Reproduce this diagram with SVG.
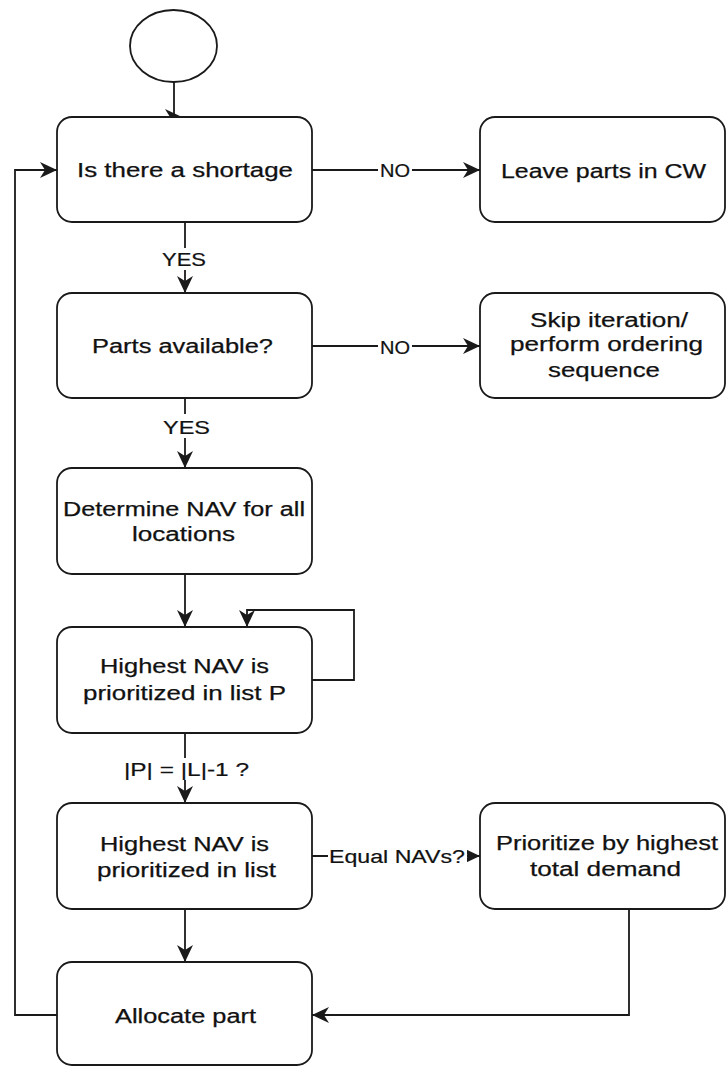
<svg xmlns="http://www.w3.org/2000/svg" width="726" height="1066" viewBox="0 0 726 1066">
  <style>
    .box { fill: #ffffff; stroke: #1a1a1a; stroke-width: 1.8; }
    .edge { fill: none; stroke: #1a1a1a; stroke-width: 1.8; }
    .t { font-family: "Liberation Sans", Arial, sans-serif; font-size: 20px; fill: #111111; stroke: #111111; stroke-width: 0.25; }
    .lbl { font-family: "Liberation Sans", Arial, sans-serif; font-size: 18px; fill: #111111; stroke: #111111; stroke-width: 0.2; }
    .lblbg { fill: #ffffff; }
  </style>
  <defs>
    <marker id="arrow" markerUnits="userSpaceOnUse" markerWidth="20" markerHeight="20" viewBox="-18 -10 20 20" refX="0" refY="0" orient="auto">
      <path d="M0,0 L-17,-8 L-12,0 L-17,8 Z" fill="#1a1a1a"/>
    </marker>
  </defs>
  <rect width="726" height="1066" fill="#ffffff"/>

  <!-- connectors -->
  <g id="connectors">
    <path class="edge" d="M174,82 V117 H182" marker-end="url(#arrow)"/>
    <path class="edge" d="M312,170 H480" marker-end="url(#arrow)"/>
    <path class="edge" d="M185,222 V293" marker-end="url(#arrow)"/>
    <path class="edge" d="M312,346 H480" marker-end="url(#arrow)"/>
    <path class="edge" d="M185,398 V468" marker-end="url(#arrow)"/>
    <path class="edge" d="M185,574 V627" marker-end="url(#arrow)"/>
    <path class="edge" d="M312,680 H354 V610 H247 V627" marker-end="url(#arrow)"/>
    <path class="edge" d="M185,733 V803" marker-end="url(#arrow)"/>
    <path class="edge" d="M312,856 H480" marker-end="url(#arrow)"/>
    <path class="edge" d="M185,909 V962" marker-end="url(#arrow)"/>
    <path class="edge" d="M629,909 V1015 H312" marker-end="url(#arrow)"/>
    <path class="edge" d="M57,1015 H15 V170 H57" marker-end="url(#arrow)"/>

    <!-- edge labels -->
    <rect class="lblbg" x="378" y="162" width="34" height="17"/>
    <text class="lbl" x="380" y="177" textLength="30" lengthAdjust="spacingAndGlyphs">NO</text>
    <rect class="lblbg" x="378" y="338" width="34" height="17"/>
    <text class="lbl" x="380" y="354" textLength="30" lengthAdjust="spacingAndGlyphs">NO</text>
    <rect class="lblbg" x="160" y="248" width="50" height="22"/>
    <text class="lbl" x="162" y="266" textLength="44" lengthAdjust="spacingAndGlyphs">YES</text>
    <rect class="lblbg" x="161" y="414" width="51" height="24"/>
    <text class="lbl" x="163" y="434" textLength="47" lengthAdjust="spacingAndGlyphs">YES</text>
    <rect class="lblbg" x="122" y="758" width="129" height="22"/>
    <text class="lbl" x="124" y="776" textLength="125" lengthAdjust="spacingAndGlyphs">|P| = |L|-1 ?</text>
    <rect class="lblbg" x="328" y="846" width="139" height="20"/>
    <text class="lbl" x="329" y="863" textLength="136" lengthAdjust="spacingAndGlyphs">Equal NAVs?</text>
  </g>

  <g id="start">
    <ellipse class="box" cx="173.5" cy="46" rx="43.5" ry="36"/>
  </g>

  <g id="shortage">
    <rect class="box" x="57" y="117" width="255" height="105" rx="15" ry="15"/>
    <text class="t" x="77" y="177" textLength="216" lengthAdjust="spacingAndGlyphs">Is there a shortage</text>
  </g>

  <g id="leave-parts">
    <rect class="box" x="480" y="117" width="245" height="105" rx="15" ry="15"/>
    <text class="t" x="501" y="178" textLength="205" lengthAdjust="spacingAndGlyphs">Leave parts in CW</text>
  </g>

  <g id="parts-available">
    <rect class="box" x="57" y="293" width="255" height="105" rx="15" ry="15"/>
    <text class="t" x="92" y="353" textLength="181" lengthAdjust="spacingAndGlyphs">Parts available?</text>
  </g>

  <g id="skip-iteration">
    <rect class="box" x="480" y="293" width="245" height="105" rx="15" ry="15"/>
    <text class="t" x="530" y="327" textLength="158" lengthAdjust="spacingAndGlyphs">Skip iteration/</text>
    <text class="t" x="510" y="351" textLength="193" lengthAdjust="spacingAndGlyphs">perform ordering</text>
    <text class="t" x="548" y="377" textLength="112" lengthAdjust="spacingAndGlyphs">sequence</text>
  </g>

  <g id="determine-nav">
    <rect class="box" x="57" y="468" width="255" height="106" rx="15" ry="15"/>
    <text class="t" x="63" y="516" textLength="242" lengthAdjust="spacingAndGlyphs">Determine NAV for all</text>
    <text class="t" x="132" y="541" textLength="103" lengthAdjust="spacingAndGlyphs">locations</text>
  </g>

  <g id="prioritize-p">
    <rect class="box" x="57" y="627" width="255" height="106" rx="15" ry="15"/>
    <text class="t" x="100" y="673" textLength="169" lengthAdjust="spacingAndGlyphs">Highest NAV is</text>
    <text class="t" x="83" y="700" textLength="203" lengthAdjust="spacingAndGlyphs">prioritized in list P</text>
  </g>

  <g id="prioritize-list">
    <rect class="box" x="57" y="803" width="255" height="106" rx="15" ry="15"/>
    <text class="t" x="100" y="851" textLength="169" lengthAdjust="spacingAndGlyphs">Highest NAV is</text>
    <text class="t" x="97" y="877" textLength="179" lengthAdjust="spacingAndGlyphs">prioritized in list</text>
  </g>

  <g id="prioritize-demand">
    <rect class="box" x="480" y="803" width="245" height="106" rx="15" ry="15"/>
    <text class="t" x="496" y="850" textLength="222" lengthAdjust="spacingAndGlyphs">Prioritize by highest</text>
    <text class="t" x="530" y="876" textLength="151" lengthAdjust="spacingAndGlyphs">total demand</text>
  </g>

  <g id="allocate">
    <rect class="box" x="57" y="962" width="255" height="103" rx="15" ry="15"/>
    <text class="t" x="115" y="1023" textLength="141" lengthAdjust="spacingAndGlyphs">Allocate part</text>
  </g>
</svg>
